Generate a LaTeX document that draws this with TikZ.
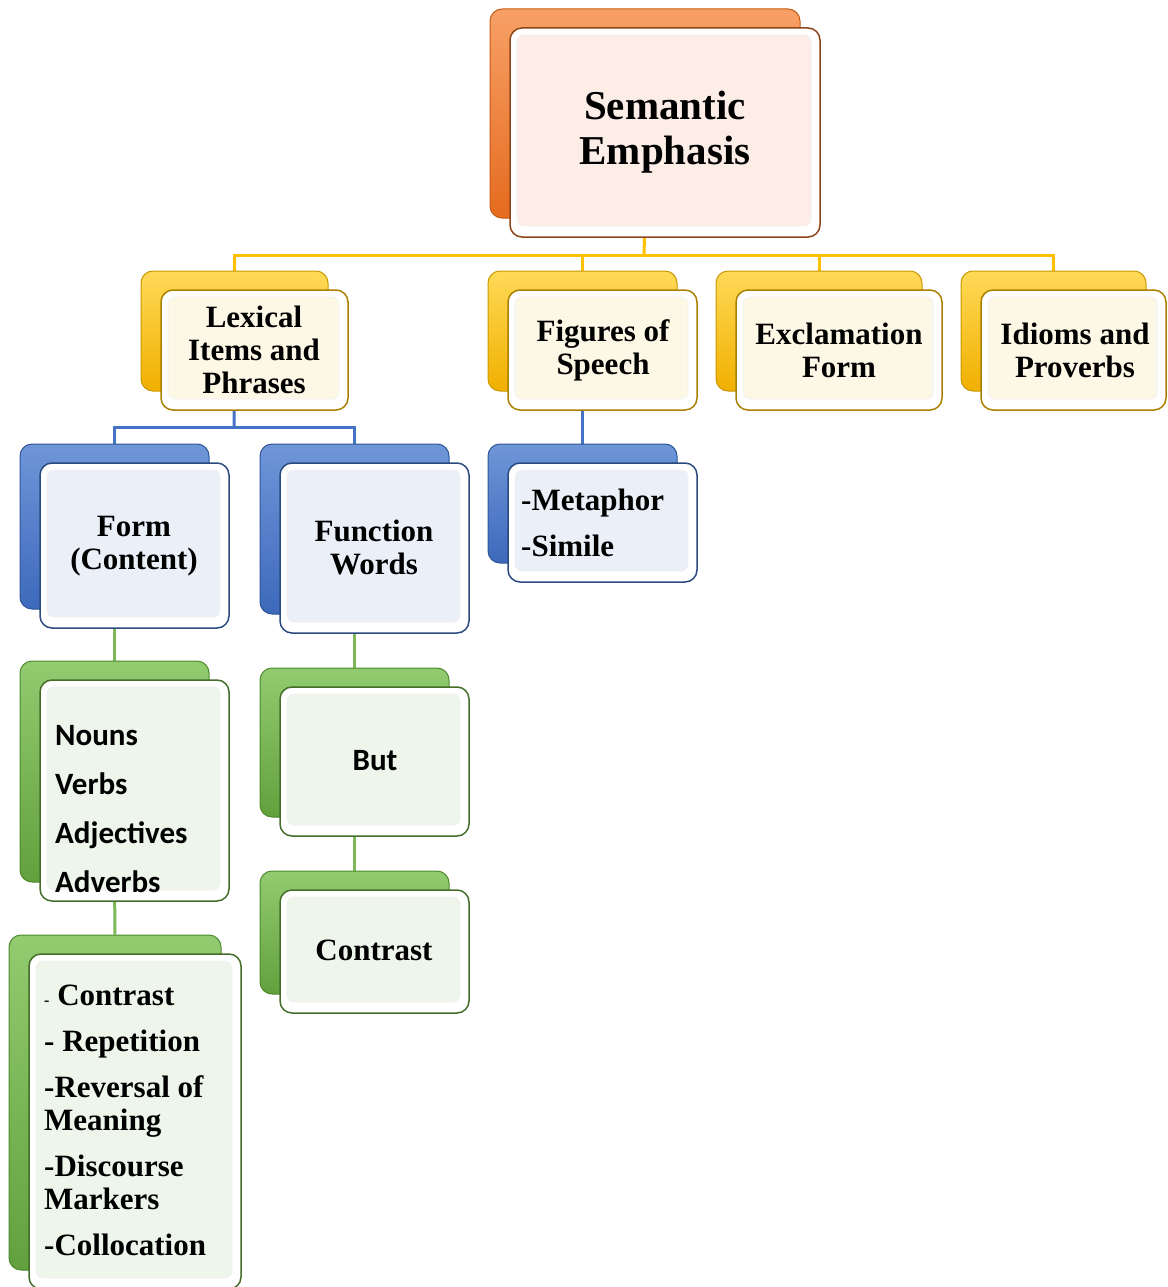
\documentclass[tikz,border=0pt]{standalone}
\usepackage{fontspec}
\setmainfont{Liberation Serif}
\newfontfamily\calfont{Carlito}
\usetikzlibrary{calc}
\pgfdeclarelayer{background}
\pgfsetlayers{background,main}

\definecolor{orgT}{HTML}{F7A066}\definecolor{orgB}{HTML}{E56B1F}\definecolor{orgD}{HTML}{C55A11}
\definecolor{orgE}{HTML}{8E4519}\definecolor{orgF}{HTML}{FCEEE6}
\definecolor{yelT}{HTML}{FFD957}\definecolor{yelB}{HTML}{F0B000}\definecolor{yelD}{HTML}{C89800}
\definecolor{yelE}{HTML}{A98000}\definecolor{yelF}{HTML}{FDF7E6}
\definecolor{bluT}{HTML}{6F96D8}\definecolor{bluB}{HTML}{3D69BC}\definecolor{bluD}{HTML}{2F5597}
\definecolor{bluE}{HTML}{2A4A80}\definecolor{bluF}{HTML}{EAEFF8}
\definecolor{grnT}{HTML}{92CB70}\definecolor{grnB}{HTML}{62A03D}\definecolor{grnD}{HTML}{4E8A2E}
\definecolor{grnE}{HTML}{456E2B}\definecolor{grnF}{HTML}{EEF5EA}
\definecolor{yline}{HTML}{FFC000}\definecolor{bline}{HTML}{4472C4}\definecolor{gline}{HTML}{7DB956}

\tikzset{
  backbox/.style={rounded corners=12pt, top color=#1T, bottom color=#1B, draw=#1D, line width=1pt, inner sep=0pt},
  frontbox/.style={rounded corners=12pt, fill=white, draw=#1E, line width=1.5pt, inner sep=0pt},
  face/.style={rounded corners=7pt, fill=#1F, draw=black!6, line width=0.6pt, inner sep=0pt},
  txt/.style={inner sep=0pt, align=center, font=\fontsize{31}{33}\selectfont\bfseries},
  conn/.style={draw=#1, line width=3pt},
}

\newcommand\duo[6]{%
  \node[backbox=#2, minimum width=#5pt, minimum height=#6pt] (#1-back) at (#3-20,#4-19) {};
  \node[frontbox=#2, minimum width=#5pt, minimum height=#6pt] (#1) at (#3,#4) {};
  \node[face=#2, minimum width={(#5-16)*1pt}, minimum height={(#6-18)*1pt}] (#1-face) at (#3-1,#4-2) {};
}

\begin{document}
\begin{tikzpicture}[x=1pt,y=-1pt]
\useasboundingbox (0,0) rectangle (1167,1287);

% boxes
\duo{top}{org}{665}{132.5}{310}{209}
\duo{lex}{yel}{254.5}{350}{187}{120}
\duo{fig}{yel}{602.5}{350}{189}{120}
\duo{exc}{yel}{839}{350}{206}{120}
\duo{idi}{yel}{1073.5}{350}{185}{120}
\duo{form}{blu}{134.5}{545.5}{189}{165}
\duo{func}{blu}{374.5}{548}{189}{170}
\duo{meta}{blu}{602.5}{522.5}{189}{119}
\duo{nouns}{grn}{134.5}{790.5}{189}{221}
\duo{list}{grn}{135}{1121.5}{212}{335}
\duo{but}{grn}{374.5}{761.5}{189}{149}
\duo{con}{grn}{374.5}{951.5}{189}{123}

% texts
\node[txt, font=\fontsize{41}{45}\selectfont\bfseries] (t-top) at (665,132) {Semantic\\Emphasis};
\node[txt] (t-lex) at (254,350) {Lexical\\Items and\\Phrases};
\node[txt] (t-fig) at (603,350) {Figures of\\Speech};
\node[txt] (t-exc) at (839,350) {Exclamation\\Form};
\node[txt] (t-idi) at (1075,350) {Idioms and\\Proverbs};
\node[txt] (t-form) at (134,546) {Form\\(Content)};
\node[txt] (t-func) at (374,547) {Function\\Words};
\node[txt, align=left, anchor=west, font=\fontsize{31}{46}\selectfont\bfseries] (t-meta) at (521,523) {-Metaphor\\-Simile};
\node[txt, align=left, anchor=west, font=\calfont\bfseries\fontsize{31}{49}\selectfont] (t-nouns) at (55,809) {Nouns\\Verbs\\Adjectives\\Adverbs};
\node[txt, font=\calfont\bfseries\fontsize{31}{33}\selectfont] (t-but) at (375,761) {But};
\node[txt] (t-con) at (374,950) {Contrast};
\node[txt, align=left, anchor=north west] (t-list) at (44,985)
  {{\fontsize{16}{16}\selectfont -} Contrast\\[13pt]
   - Repetition\\[13pt]
   -Reversal of\\Meaning\\[13pt]
   -Discourse\\Markers\\[13pt]
   -Collocation};

% connectors
\begin{pgfonlayer}{background}
\coordinate (ybus) at (644,255);
\coordinate (bbus) at (234,427);
\draw[conn=yline] (top-back.south) -- (ybus);
\draw[conn=yline] (lex-back.north) |- (ybus) -| (idi-back.north);
\draw[conn=yline] (fig-back.north) -- (fig-back.north |- ybus);
\draw[conn=yline] (exc-back.north) -- (exc-back.north |- ybus);
\draw[conn=bline] (lex-back.south) -- (bbus);
\draw[conn=bline] (form-back.north) |- (bbus) -| (func-back.north);
\draw[conn=bline] (fig-back.south) -- (meta-back.north);
\draw[conn=gline] (form-back.south) -- (nouns-back.north);
\draw[conn=gline] (nouns-back.south) -- (list-back.north);
\draw[conn=gline] (func-back.south) -- (but-back.north);
\draw[conn=gline] (but-back.south) -- (con-back.north);
\end{pgfonlayer}
\end{tikzpicture}
\end{document}
